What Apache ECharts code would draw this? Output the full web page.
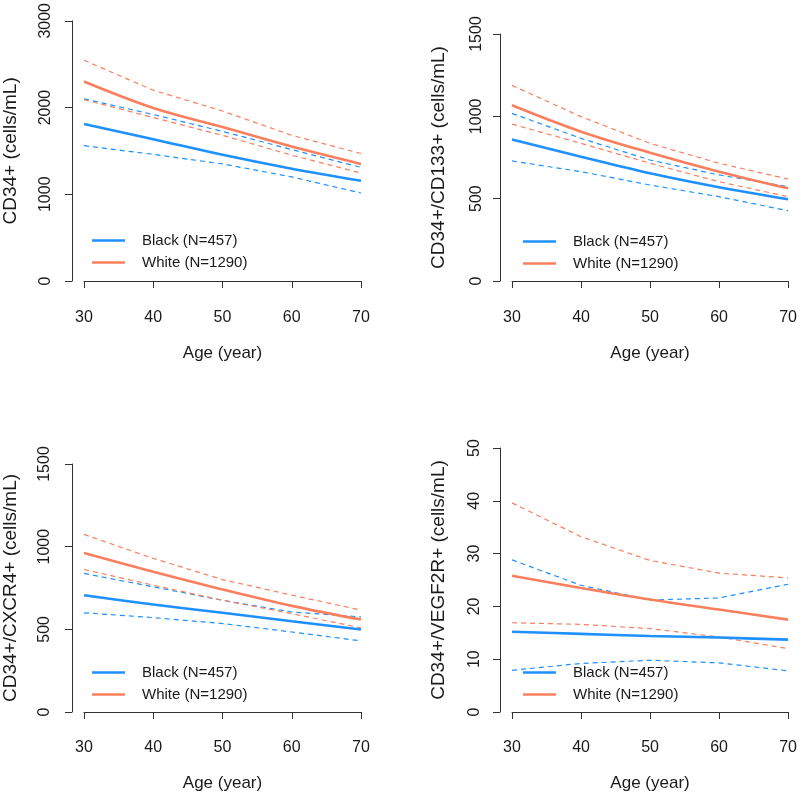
<!DOCTYPE html>
<html>
<head>
<meta charset="utf-8">
<script src="https://cdn.jsdelivr.net/npm/echarts@6/dist/echarts.min.js"></script>
<style>html,body{margin:0;padding:0;background:#fff}#c{width:800px;height:794px}</style>
</head>
<body>
<div id="c"></div>
<script>
const ages = [30, 40, 50, 60, 70];
const xTicks = [30, 40, 50, 60, 70];
const blackName = 'Black (N=457)';
const whiteName = 'White (N=1290)';

// Panel 1: CD34+
const p1Title = 'CD34+ (cells/mL)';
const p1BlackMean = [1810, 1635, 1455, 1295, 1155];
const p1BlackUpper = [2100, 1920, 1725, 1515, 1310];
const p1BlackLower = [1560, 1460, 1350, 1200, 1015];
const p1WhiteMean = [2300, 1995, 1775, 1550, 1350];
const p1WhiteUpper = [2545, 2200, 1960, 1680, 1470];
const p1WhiteLower = [2090, 1885, 1680, 1450, 1245];

// Panel 2: CD34+/CD133+
const p2Title = 'CD34+/CD133+ (cells/mL)';
const p2BlackMean = [860, 755, 654, 569, 496];
const p2BlackUpper = [1018, 866, 735, 644, 573];
const p2BlackLower = [729, 664, 583, 512, 427];
const p2WhiteMean = [1067, 907, 779, 664, 563];
const p2WhiteUpper = [1188, 998, 836, 715, 619];
const p2WhiteLower = [953, 836, 715, 603, 512];

// Panel 3: CD34+/CXCR4+
const p3Title = 'CD34+/CXCR4+ (cells/mL)';
const p3BlackMean = [706, 650, 600, 549, 499];
const p3BlackUpper = [838, 757, 676, 605, 575];
const p3BlackLower = [600, 571, 535, 484, 430];
const p3WhiteMean = [961, 848, 741, 642, 559];
const p3WhiteUpper = [1074, 929, 801, 707, 616];
const p3WhiteLower = [862, 767, 676, 595, 509];

// Panel 4: CD34+/VEGF2R+
const p4Title = 'CD34+/VEGF2R+ (cells/mL)';
const p4BlackMean = [15.2, 14.8, 14.4, 14.1, 13.7];
const p4BlackUpper = [28.8, 24.0, 21.2, 21.6, 24.2];
const p4BlackLower = [7.9, 9.2, 9.8, 9.3, 7.8];
const p4WhiteMean = [25.8, 23.5, 21.3, 19.4, 17.5];
const p4WhiteUpper = [39.6, 33.2, 28.7, 26.3, 25.4];
const p4WhiteLower = [16.9, 16.6, 15.8, 14.2, 12.0];

const yTicks1 = [0, 1000, 2000, 3000];
const yTicks2 = [0, 500, 1000, 1500];
const yTicks3 = [0, 500, 1000, 1500];
const yTicks4 = [0, 10, 20, 30, 40, 50];

const BLUE = '#1E90FF';
const CORAL = '#FA7F5E';
const AXC = '#333';
const TXT = '#1a1a1a';
const FONT = 'Liberation Sans, Arial, sans-serif';

const panels = [
  {title: p1Title, bm: p1BlackMean, bu: p1BlackUpper, bl: p1BlackLower, wm: p1WhiteMean, wu: p1WhiteUpper, wl: p1WhiteLower, yt: yTicks1,
   grid: {left: 82, top: 17, width: 279, height: 264}, xOff: 11, yOff: 12, lblMargin: 18, legLeft: 92, legTop: 233},
  {title: p2Title, bm: p2BlackMean, bu: p2BlackUpper, bl: p2BlackLower, wm: p2WhiteMean, wu: p2WhiteUpper, wl: p2WhiteLower, yt: yTicks2,
   grid: {left: 512, top: 34, width: 279, height: 247}, xOff: 11, yOff: 12, lblMargin: 15, legLeft: 523, legTop: 234},
  {title: p3Title, bm: p3BlackMean, bu: p3BlackUpper, bl: p3BlackLower, wm: p3WhiteMean, wu: p3WhiteUpper, wl: p3WhiteLower, yt: yTicks3,
   grid: {left: 82, top: 464, width: 279, height: 248}, xOff: 10, yOff: 12, lblMargin: 19, legLeft: 92, legTop: 665},
  {title: p4Title, bm: p4BlackMean, bu: p4BlackUpper, bl: p4BlackLower, wm: p4WhiteMean, wu: p4WhiteUpper, wl: p4WhiteLower, yt: yTicks4,
   grid: {left: 512, top: 448, width: 279, height: 264}, xOff: 10, yOff: 12, lblMargin: 17, legLeft: 523, legTop: 665}
];

const pair = arr => ages.map((a, i) => [a, arr[i]]);

const option = {
  animation: false,
  backgroundColor: '#fff',
  textStyle: {fontFamily: FONT},
  grid: [], xAxis: [], yAxis: [], series: [], legend: []
};

panels.forEach((p, k) => {
  option.grid.push(Object.assign({containLabel: false}, p.grid));
  option.xAxis.push({
    type: 'value', gridIndex: k, min: xTicks[0], max: xTicks[xTicks.length - 1],
    interval: xTicks[1] - xTicks[0], offset: p.xOff,
    name: 'Age (year)', nameLocation: 'middle', nameGap: 53,
    nameTextStyle: {fontSize: 17, color: TXT, fontFamily: FONT},
    axisLine: {show: true, lineStyle: {color: AXC, width: 1}},
    axisTick: {show: true, length: 7, lineStyle: {color: AXC}},
    axisLabel: {fontSize: 16, color: TXT, margin: 18, fontFamily: FONT, formatter: v => String(v)},
    splitLine: {show: false}
  });
  option.yAxis.push({
    type: 'value', gridIndex: k, min: p.yt[0], max: p.yt[p.yt.length - 1],
    interval: p.yt[1] - p.yt[0], offset: p.yOff,
    name: p.title, nameLocation: 'middle', nameGap: 52,
    nameTextStyle: {fontSize: 19, color: TXT, fontFamily: FONT},
    axisLine: {show: true, lineStyle: {color: AXC, width: 1}},
    axisTick: {show: true, length: 7, lineStyle: {color: AXC}},
    axisLabel: {fontSize: 16, color: TXT, rotate: 90, margin: p.lblMargin, fontFamily: FONT, formatter: v => String(v)},
    splitLine: {show: false}
  });
  const mk = (name, arr, color, dashed) => ({
    type: 'line', name: name, xAxisIndex: k, yAxisIndex: k,
    data: pair(arr), showSymbol: false, symbol: 'none',
    smooth: dashed ? false : 0.35,
    color: color,
    lineStyle: {color: color, width: dashed ? 1.2 : 2.6, type: dashed ? [5, 4] : 'solid'},
    silent: true, z: dashed ? 2 : 3
  });
  option.series.push(mk('Black upper', p.bu, BLUE, true));
  option.series.push(mk('Black lower', p.bl, BLUE, true));
  option.series.push(mk('White upper', p.wu, CORAL, true));
  option.series.push(mk('White lower', p.wl, CORAL, true));
  option.series.push(mk(blackName, p.bm, BLUE, false));
  option.series.push(mk(whiteName, p.wm, CORAL, false));
  option.legend.push({
    data: [blackName, whiteName], orient: 'vertical', left: p.legLeft, top: p.legTop,
    icon: 'rect', itemWidth: 33, itemHeight: 2.5, itemGap: 7, selectedMode: false,
    padding: 0,
    textStyle: {fontSize: 15, color: TXT, fontFamily: FONT, lineHeight: 15, padding: [0, 0, 0, 12]}
  });
});

const chart = echarts.init(document.getElementById('c'), null, {renderer: 'canvas'});
chart.setOption(option);
</script>
</body>
</html>
